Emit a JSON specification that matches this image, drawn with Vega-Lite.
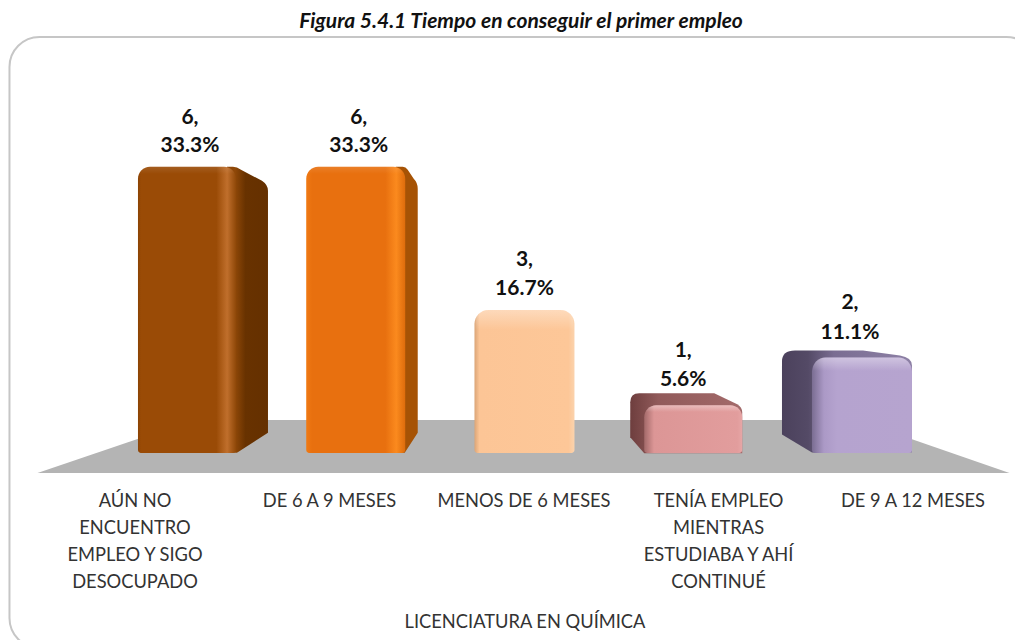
{
"$schema":"https://vega.github.io/schema/vega-lite/v6.json",
"width":1015,"height":603,
"autosize":{"type":"none"},
"padding":{"left":0,"top":37,"right":0,"bottom":0},
"background":"white",
"config":{"view":{"stroke":null},"font":"Lato"},
"title":{"text":"Figura 5.4.1 Tiempo en conseguir el primer empleo","font":"Lato","fontSize":21,"fontWeight":"bold","fontStyle":"italic","color":"#111111","anchor":"middle","offset":1,"dx":13.5},
"datasets":{"rows":[
{"cat":"AÚN NO ENCUENTRO EMPLEO Y SIGO DESOCUPADO","n":6,"label":"6,\n33.3%"},
{"cat":"DE 6 A 9 MESES","n":6,"label":"6,\n33.3%"},
{"cat":"MENOS DE 6 MESES","n":3,"label":"3,\n16.7%"},
{"cat":"TENÍA EMPLEO MIENTRAS ESTUDIABA Y AHÍ CONTINUÉ","n":1,"label":"1,\n5.6%"},
{"cat":"DE 9 A 12 MESES","n":2,"label":"2,\n11.1%"}
]},
"data":{"name":"rows"},
"encoding":{"y":{"field":"n","type":"quantitative","axis":null,"scale":{"domain":[-3.92,8.72],"nice":false,"zero":false}},
 "x":{"field":"cat","type":"nominal","axis":null,"sort":null,"scale":{"type":"band","domain":["AÚN NO ENCUENTRO EMPLEO Y SIGO DESOCUPADO","DE 6 A 9 MESES","MENOS DE 6 MESES","TENÍA EMPLEO MIENTRAS ESTUDIABA Y AHÍ CONTINUÉ","DE 9 A 12 MESES"],"range":[102.6,946.35],"paddingInner":0,"paddingOuter":0}}},
"layer":[
{"transform":[{"filter":"datum.n==3"}],
 "mark":{"type":"point","filled":true,"opacity":1,"size":4,"strokeWidth":0,"fill":"#b4b4b4","shape":"M-487,20 L-331,-33 L332,-33 L485,20 Z"},
 "encoding":{"y":{"datum":0}}},
{"transform":[{"filter":"datum.n==3"}],
 "mark":{"type":"point","filled":false,"opacity":1,"size":4,"strokeWidth":2,"stroke":"#c6c6c6","shape":"M-485,-416 H482 A30,30 0 0 1 512,-386 V165 A30,30 0 0 1 482,195 H-485 A30,30 0 0 1 -515,165 V-386 A30,30 0 0 1 -485,-416 Z"},
 "encoding":{"y":{"datum":0}}},
{"mark":{"type":"point","opacity":0,"size":1},
 "encoding":{"x":{"field":"cat","type":"nominal","sort":null,"scale":{"type":"band","range":[37.75,1010.25],"paddingInner":0,"paddingOuter":0},
  "title":"LICENCIATURA EN QUÍMICA",
  "axis":{"orient":"bottom","offset":-139,"domain":false,"ticks":false,"grid":false,"labelAngle":0,"labelPadding":0,"labelFont":"Lato","labelFontSize":18.3,"labelColor":"#333333","labelLimit":0,"labelLineHeight":27,"labelBaseline":"middle","labelAlign":"center",
   "labelExpr":"datum.value=='AÚN NO ENCUENTRO EMPLEO Y SIGO DESOCUPADO'?['AÚN NO','ENCUENTRO','EMPLEO Y SIGO','DESOCUPADO']:datum.value=='TENÍA EMPLEO MIENTRAS ESTUDIABA Y AHÍ CONTINUÉ'?['TENÍA EMPLEO','MIENTRAS','ESTUDIABA Y AHÍ','CONTINUÉ']:datum.value",
   "titleFont":"Lato","titleFontSize":18.3,"titleFontWeight":"normal","titleColor":"#333333","titleX":524.5,"titleY":121,"titleBaseline":"middle"}}}},
{"transform":[{"filter":"datum.cat=='AÚN NO ENCUENTRO EMPLEO Y SIGO DESOCUPADO'"}],
 "mark":{"type":"point","filled":true,"opacity":1,"size":4,"strokeWidth":0,"shape":"M40,0 L46,0 Q50,0 54,3 L75,14 Q81,18 81,24 L81,266 L50,286 L40,286 Z",
  "fill":{"x1":0,"x2":1,"y1":0,"y2":0,"gradient":"linear","stops":[{"offset":0.2,"color":"#8f4808"},{"offset":0.45,"color":"#683200"},{"offset":1,"color":"#653000"}]}}},
{"transform":[{"filter":"datum.cat=='DE 6 A 9 MESES'"}],
 "mark":{"type":"point","filled":true,"opacity":1,"size":4,"strokeWidth":0,"shape":"M40,0 L47,0 Q50,0 52,3 L58,12 Q62,16 62,22 L62,266 L49,286 L40,286 Z",
  "fill":"#a65305"}},
{"transform":[{"filter":"datum.n==1"}],
 "mark":{"type":"point","filled":true,"opacity":1,"size":4,"strokeWidth":0,"shape":"M-63,32 L-63,-3 Q-63,-12 -54,-12 L21,-12 L44,-1 Q49,2 49,7 L49,48 L-49,48 Z",
  "fill":{"x1":0,"x2":1,"y1":0,"y2":0,"gradient":"linear","stops":[{"offset":0,"color":"#6e3e3e"},{"offset":0.25,"color":"#915a5a"},{"offset":1,"color":"#a36a6a"}]}}},
{"transform":[{"filter":"datum.n==2"}],
 "mark":{"type":"point","filled":true,"opacity":1,"size":4,"strokeWidth":0,"shape":"M-80,77 L-80,4 Q-80,-7 -67,-7 L1,-7 L38,-2 Q50,0 50,8 L50,95 L-50,95 Z",
  "fill":{"x1":0,"x2":1,"y1":0,"y2":0,"gradient":"linear","stops":[{"offset":0,"color":"#4b415c"},{"offset":0.2,"color":"#544a66"},{"offset":0.4,"color":"#7a6d92"},{"offset":1,"color":"#8d80a5"}]}}},
{"transform":[{"filter":"datum.cat=='AÚN NO ENCUENTRO EMPLEO Y SIGO DESOCUPADO'"}],
 "mark":{"type":"bar","size":98,"cornerRadiusTopLeft":12,"cornerRadiusTopRight":12,"cornerRadiusBottomLeft":3,"cornerRadiusBottomRight":3,
  "fill":{"x1":0,"x2":1,"y1":0,"y2":0,"gradient":"linear","stops":[{"offset":0,"color":"#8a4204"},{"offset":0.03,"color":"#9a4b06"},{"offset":0.8,"color":"#9a4b06"},{"offset":0.91,"color":"#c06f2c"},{"offset":1,"color":"#8f4808"}]}},
 "encoding":{"y2":{"datum":0}}},
{"transform":[{"filter":"datum.cat=='DE 6 A 9 MESES'"}],
 "mark":{"type":"bar","size":99,"cornerRadiusTopLeft":12,"cornerRadiusTopRight":12,"cornerRadiusBottomLeft":3,"cornerRadiusBottomRight":3,
  "fill":{"x1":0,"x2":1,"y1":0,"y2":0,"gradient":"linear","stops":[{"offset":0,"color":"#f07a14"},{"offset":0.06,"color":"#e8700f"},{"offset":0.8,"color":"#e8700f"},{"offset":0.91,"color":"#fb8a1e"},{"offset":1,"color":"#dd6c0c"}]}},
 "encoding":{"y2":{"datum":0}}},
{"transform":[{"filter":"datum.n==3"}],
 "mark":{"type":"bar","size":100,"cornerRadiusTopLeft":14,"cornerRadiusTopRight":14,"cornerRadiusBottomLeft":3,"cornerRadiusBottomRight":3,
  "fill":{"x1":0,"x2":1,"y1":0,"y2":0,"gradient":"linear","stops":[{"offset":0,"color":"#dba577"},{"offset":0.05,"color":"#fcc596"},{"offset":0.94,"color":"#fdc798"},{"offset":1,"color":"#fbd3ad"}]}},
 "encoding":{"y2":{"datum":0}}},
{"transform":[{"filter":"datum.n==1"}],
 "mark":{"type":"bar","size":98,"cornerRadiusTopLeft":12,"cornerRadiusTopRight":12,"cornerRadiusBottomLeft":3,"cornerRadiusBottomRight":3,
  "fill":{"x1":0,"x2":1,"y1":0,"y2":0,"gradient":"linear","stops":[{"offset":0,"color":"#a36a6a"},{"offset":0.1,"color":"#dc9696"},{"offset":0.95,"color":"#e29d9d"},{"offset":1,"color":"#e6a6a6"}]}},
 "encoding":{"y2":{"datum":0}}},
{"transform":[{"filter":"datum.n==2"}],
 "mark":{"type":"bar","size":100,"cornerRadiusTopLeft":14,"cornerRadiusTopRight":14,"cornerRadiusBottomLeft":3,"cornerRadiusBottomRight":3,
  "fill":{"x1":0,"x2":1,"y1":0,"y2":0,"gradient":"linear","stops":[{"offset":0,"color":"#7a6d92"},{"offset":0.12,"color":"#ab99c6"},{"offset":0.25,"color":"#b5a3cf"},{"offset":1,"color":"#b6a4cf"}]}},
 "encoding":{"y2":{"datum":0}}},
{"transform":[{"filter":"datum.n==6"}],
 "mark":{"type":"bar","size":98,"cornerRadiusTopLeft":12,"cornerRadiusTopRight":12,
  "fill":{"x1":0,"x2":0,"y1":0,"y2":1,"gradient":"linear","stops":[{"offset":0,"color":"rgba(255,255,255,0.1)"},{"offset":0.025,"color":"rgba(255,255,255,0)"},{"offset":1,"color":"rgba(255,255,255,0)"}]}},
 "encoding":{"y2":{"datum":0}}},
{"transform":[{"filter":"datum.n<6"}],
 "mark":{"type":"bar","size":98,"cornerRadiusTopLeft":12,"cornerRadiusTopRight":12,
  "fill":{"x1":0,"x2":0,"y1":0,"y2":1,"gradient":"linear","stops":[{"offset":0,"color":"rgba(255,255,255,0.35)"},{"offset":0.14,"color":"rgba(255,255,255,0)"},{"offset":1,"color":"rgba(255,255,255,0)"}]}},
 "encoding":{"y2":{"datum":0}}},
{"transform":[{"filter":"datum.n==6"}],
 "mark":{"type":"text","font":"Lato","fontSize":21,"fontWeight":"bold","color":"#111111","baseline":"bottom","lineBreak":"\n","lineHeight":28,"dx":3,"dy":-39},
 "encoding":{"text":{"field":"label"}}},
{"transform":[{"filter":"datum.n==3"}],
 "mark":{"type":"text","font":"Lato","fontSize":21,"fontWeight":"bold","color":"#111111","baseline":"bottom","lineBreak":"\n","lineHeight":29,"dx":0,"dy":-40},
 "encoding":{"text":{"field":"label"}}},
{"transform":[{"filter":"datum.n==1"}],
 "mark":{"type":"text","font":"Lato","fontSize":21,"fontWeight":"bold","color":"#111111","baseline":"bottom","lineBreak":"\n","lineHeight":29,"dx":-10,"dy":-44},
 "encoding":{"text":{"field":"label"}}},
{"transform":[{"filter":"datum.n==2"}],
 "mark":{"type":"text","font":"Lato","fontSize":21,"fontWeight":"bold","color":"#111111","baseline":"bottom","lineBreak":"\n","lineHeight":30,"dx":-12,"dy":-45},
 "encoding":{"text":{"field":"label"}}}
],
"resolve":{"scale":{"x":"independent"},"axis":{"x":"independent"}}
}
